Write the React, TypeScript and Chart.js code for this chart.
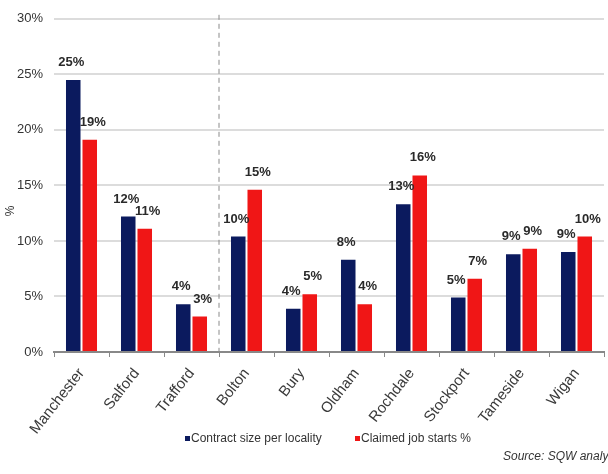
import React, { useEffect, useRef } from "react";
import { Chart, registerables } from "chart.js";

Chart.register(...registerables);

const categories = ["Manchester", "Salford", "Trafford", "Bolton", "Bury", "Oldham", "Rochdale", "Stockport", "Tameside", "Wigan"];
const contractSize = [24.5, 12.2, 4.3, 10.4, 3.9, 8.3, 13.3, 4.9, 8.8, 9.0];
const jobStarts = [19.1, 11.1, 3.2, 14.6, 5.2, 4.3, 15.9, 6.6, 9.3, 10.4];
const seriesNames = ["Contract size per locality", "Claimed job starts %"];
const yTicks = [0, 5, 10, 15, 20, 25, 30];

const NAVY = "#0b1a5e";
const RED = "#f01616";
const FONT = "'Liberation Sans', Arial, sans-serif";

const overlayPlugin = {
  id: "overlay",
  beforeDatasetsDraw(chart: any) {
    const { ctx, chartArea, scales } = chart;
    const x = scales.x;
    const xp = (x.getPixelForValue(2) + x.getPixelForValue(3)) / 2;
    ctx.save();
    ctx.strokeStyle = "#8a8a8a";
    ctx.lineWidth = 1;
    ctx.setLineDash([5, 4]);
    ctx.beginPath();
    ctx.moveTo(xp, chartArea.top - 4);
    ctx.lineTo(xp, chartArea.bottom);
    ctx.stroke();
    ctx.restore();
  },
  afterDatasetsDraw(chart: any) {
    const { ctx } = chart;
    ctx.save();
    ctx.font = `bold 13px ${FONT}`;
    ctx.fillStyle = "#2a2a2a";
    ctx.textAlign = "center";
    ctx.textBaseline = "bottom";
    chart.data.datasets.forEach((ds: any, di: number) => {
      const meta = chart.getDatasetMeta(di);
      meta.data.forEach((bar: any, i: number) => {
        const v = ds.data[i];
        ctx.fillText(`${Math.round(v)}%`, bar.x + (di === 0 ? -2 : 3), bar.y - 11);
      });
    });
    // y axis title
    ctx.save();
    ctx.translate(11, 211);
    ctx.rotate(-Math.PI / 2);
    ctx.font = `12px ${FONT}`;
    ctx.fillStyle = "#333";
    ctx.textAlign = "center";
    ctx.textBaseline = "middle";
    ctx.fillText("%", 0, 0);
    ctx.restore();
    // legend
    ctx.font = `12px ${FONT}`;
    ctx.textAlign = "left";
    ctx.textBaseline = "middle";
    const legendY = 439;
    const items = [
      { x: 185, color: NAVY, label: seriesNames[0] },
      { x: 355, color: RED, label: seriesNames[1] },
    ];
    items.forEach((it) => {
      ctx.fillStyle = it.color;
      ctx.fillRect(it.x, legendY - 3, 5, 5);
      ctx.fillStyle = "#333";
      ctx.fillText(it.label, it.x + 6, legendY);
    });
    // source
    ctx.font = `italic 12px ${FONT}`;
    ctx.fillStyle = "#333";
    ctx.fillText("Source: SQW analysis", 503, 457);
    ctx.restore();
  },
};

export default function App() {
  const ref = useRef<HTMLCanvasElement>(null);
  useEffect(() => {
    document.body.style.margin = "0";
    const chart = new Chart(ref.current!, {
      type: "bar",
      data: {
        labels: categories,
        datasets: [
          { label: seriesNames[0], data: contractSize, backgroundColor: NAVY, categoryPercentage: 0.6, barPercentage: 0.88 },
          { label: seriesNames[1], data: jobStarts, backgroundColor: RED, categoryPercentage: 0.6, barPercentage: 0.88 },
        ],
      },
      options: {
        animation: false,
        responsive: false,
        maintainAspectRatio: false,
        layout: { padding: { top: 18, right: 4, left: 0, bottom: 0 } },
        plugins: { legend: { display: false }, tooltip: { enabled: false } },
        scales: {
          x: {
            afterFit: (s: any) => { s.height = 122; },
            grid: { drawOnChartArea: false, drawTicks: true, tickLength: 5, color: "#888", offset: true },
            border: { display: true, color: "#888", width: 2 },
            ticks: {
              maxRotation: 52,
              minRotation: 52,
              padding: 8,
              color: "#3a3a3a",
              font: { family: FONT, size: 15 },
            },
          },
          y: {
            min: 0,
            max: 30,
            afterFit: (s: any) => { s.width = 54; },
            afterBuildTicks: (s: any) => { s.ticks = yTicks.map((v) => ({ value: v })); },
            grid: { color: "#dcdcdc", lineWidth: 2, drawTicks: false },
            border: { display: false },
            ticks: {
              padding: 11,
              color: "#333",
              font: { family: FONT, size: 13 },
              callback: (v: any) => `${v}%`,
            },
          },
        },
      },
      plugins: [overlayPlugin],
    });
    return () => chart.destroy();
  }, []);
  return <canvas ref={ref} width={608} height={474} style={{ display: "block" }} />;
}
